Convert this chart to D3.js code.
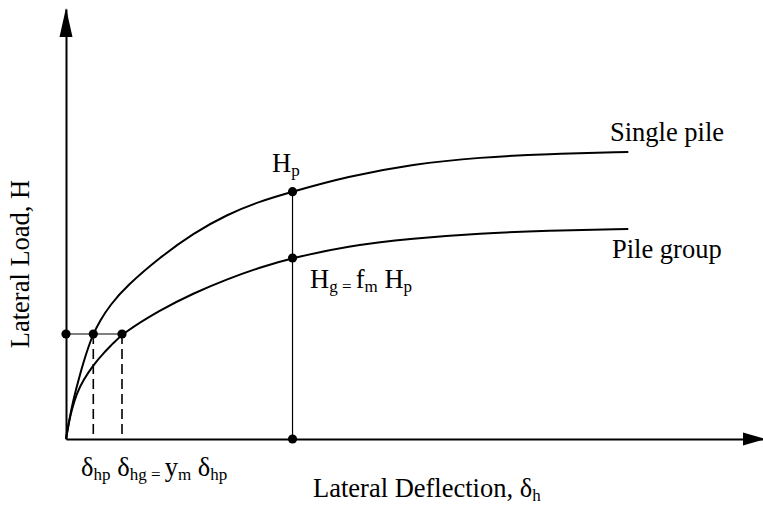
<!DOCTYPE html>
<html>
<head>
<meta charset="utf-8">
<script src="https://cdn.jsdelivr.net/npm/d3@7"></script>
<style>
  html, body { margin: 0; padding: 0; background: #fff; }
  svg { display: block; }
  text { font-family: "Liberation Serif", "Times New Roman", serif; fill: #000; }
</style>
</head>
<body>
<svg id="chart" width="763" height="510"></svg>
<script>
// ---- data (arbitrary units: deflection 0..10, load 0..10) ----
const singlePileX = [0, 0.029, 0.057, 0.104, 0.153, 0.2, 0.247, 0.319, 0.39, 0.486, 0.629, 0.867, 1.343, 1.819, 2.296, 2.771, 3.236, 4.01, 4.961, 5.914, 6.867, 8.033];
const singlePileY = [0, 0.251, 0.53, 0.898, 1.214, 1.498, 1.767, 2.14, 2.442, 2.753, 3.114, 3.56, 4.226, 4.784, 5.219, 5.528, 5.751, 6.1, 6.395, 6.551, 6.628, 6.674];
const pileGroupX = [0, 0.014, 0.036, 0.081, 0.153, 0.247, 0.39, 0.533, 0.676, 0.8, 1.343, 1.819, 2.296, 2.771, 3.236, 4.01, 4.961, 5.914, 6.867, 8.033];
const pileGroupY = [0, 0.163, 0.349, 0.674, 1.062, 1.372, 1.721, 1.993, 2.226, 2.442, 3.0, 3.388, 3.714, 3.993, 4.209, 4.488, 4.667, 4.784, 4.844, 4.884];

const loadLevel = 2.442;          // common lateral load level
const deltaHp = 0.39;             // single pile deflection at load level
const deltaHg = 0.8;              // group deflection at load level
const deflAtHp = 3.236;           // deflection where Hp, Hg are read
const Hp = 5.751;
const Hg = 4.209;

const xMax = 10, yMax = 10;

// ---- scales ----
const svg = d3.select("#chart");
const x = d3.scaleLinear().domain([0, xMax]).range([66, 766]);
const y = d3.scaleLinear().domain([0, yMax]).range([439, 9]);

// ---- axes (no ticks) ----
const xAxis = svg.append("g").attr("transform", `translate(0,${y(0)})`)
  .call(d3.axisBottom(x).tickValues([]).tickSizeOuter(0));
xAxis.select(".domain").attr("stroke", "#000").attr("stroke-width", 2);
const yAxis = svg.append("g").attr("transform", `translate(${x(0)},0)`)
  .call(d3.axisLeft(y).tickValues([]).tickSizeOuter(0));
yAxis.select(".domain").attr("stroke", "#000").attr("stroke-width", 2);

// arrowheads
svg.append("path")
  .attr("d", `M${x(xMax)},${y(0)} L${x(xMax) - 23},${y(0) - 6.5} L${x(xMax) - 23},${y(0) + 6.5} Z`)
  .attr("fill", "#000");
svg.append("path")
  .attr("d", `M${x(0)},${y(yMax) - 1} L${x(0) - 6.5},${y(yMax) + 28} L${x(0) + 6.5},${y(yMax) + 28} Z`)
  .attr("fill", "#000");

// ---- guide lines ----
svg.append("line")
  .attr("x1", x(0)).attr("x2", x(deltaHg))
  .attr("y1", y(loadLevel)).attr("y2", y(loadLevel))
  .attr("stroke", "#000").attr("stroke-width", 1.2);
[deltaHp, deltaHg].forEach(d => {
  svg.append("line")
    .attr("x1", x(d)).attr("x2", x(d))
    .attr("y1", y(loadLevel)).attr("y2", y(0))
    .attr("stroke", "#000").attr("stroke-width", 1.6)
    .attr("stroke-dasharray", "10,5");
});
svg.append("line")
  .attr("x1", x(deflAtHp)).attr("x2", x(deflAtHp))
  .attr("y1", y(Hp)).attr("y2", y(0))
  .attr("stroke", "#000").attr("stroke-width", 1.2);

// ---- curves ----
const line = d3.line().x(d => x(d[0])).y(d => y(d[1])).curve(d3.curveBasis);
svg.append("path")
  .datum(d3.zip(singlePileX, singlePileY))
  .attr("d", line).attr("fill", "none").attr("stroke", "#000").attr("stroke-width", 2);
svg.append("path")
  .datum(d3.zip(pileGroupX, pileGroupY))
  .attr("d", line).attr("fill", "none").attr("stroke", "#000").attr("stroke-width", 2);

// ---- dots ----
const dots = [[0, loadLevel], [deltaHp, loadLevel], [deltaHg, loadLevel], [deflAtHp, Hp], [deflAtHp, Hg], [deflAtHp, 0]];
svg.selectAll("circle.dot").data(dots).enter().append("circle")
  .attr("class", "dot")
  .attr("cx", d => x(d[0])).attr("cy", d => y(d[1])).attr("r", 4.6).attr("fill", "#000");

// ---- labels ----
const FS = 26.5, SFS = 17;
function rich(parent, parts, px, py, anchor) {
  const t = parent.append("text").attr("x", px).attr("y", py)
    .attr("font-size", FS).attr("text-anchor", anchor || "start");
  parts.forEach(p => {
    const sp = t.append("tspan").text(p.t);
    if (p.sub) sp.attr("font-size", SFS).attr("dy", 4);
    else if (p.back) sp.attr("dy", -4);
  });
  return t;
}
svg.append("text").attr("x", 610).attr("y", 141).attr("font-size", FS).text("Single pile");
svg.append("text").attr("x", 612).attr("y", 258).attr("font-size", FS).text("Pile group");

rich(svg, [{t: "H"}, {t: "p", sub: true}], 272, 172);
rich(svg, [{t: "H"}, {t: "g = ", sub: true}, {t: "f", back: true}, {t: "m", sub: true}, {t: " H", back: true}, {t: "p", sub: true}], 310, 288);
rich(svg, [{t: "δ"}, {t: "hp", sub: true}, {t: " δ", back: true}, {t: "hg = ", sub: true}, {t: "y", back: true}, {t: "m", sub: true}, {t: " δ", back: true}, {t: "hp", sub: true}], 81, 476);

rich(svg, [{t: "Lateral Deflection, δ"}, {t: "h", sub: true}], 313, 497);

svg.append("text")
  .attr("transform", "translate(29,264) rotate(-90)")
  .attr("text-anchor", "middle")
  .attr("font-size", FS)
  .text("Lateral Load, H");
</script>
</body>
</html>
